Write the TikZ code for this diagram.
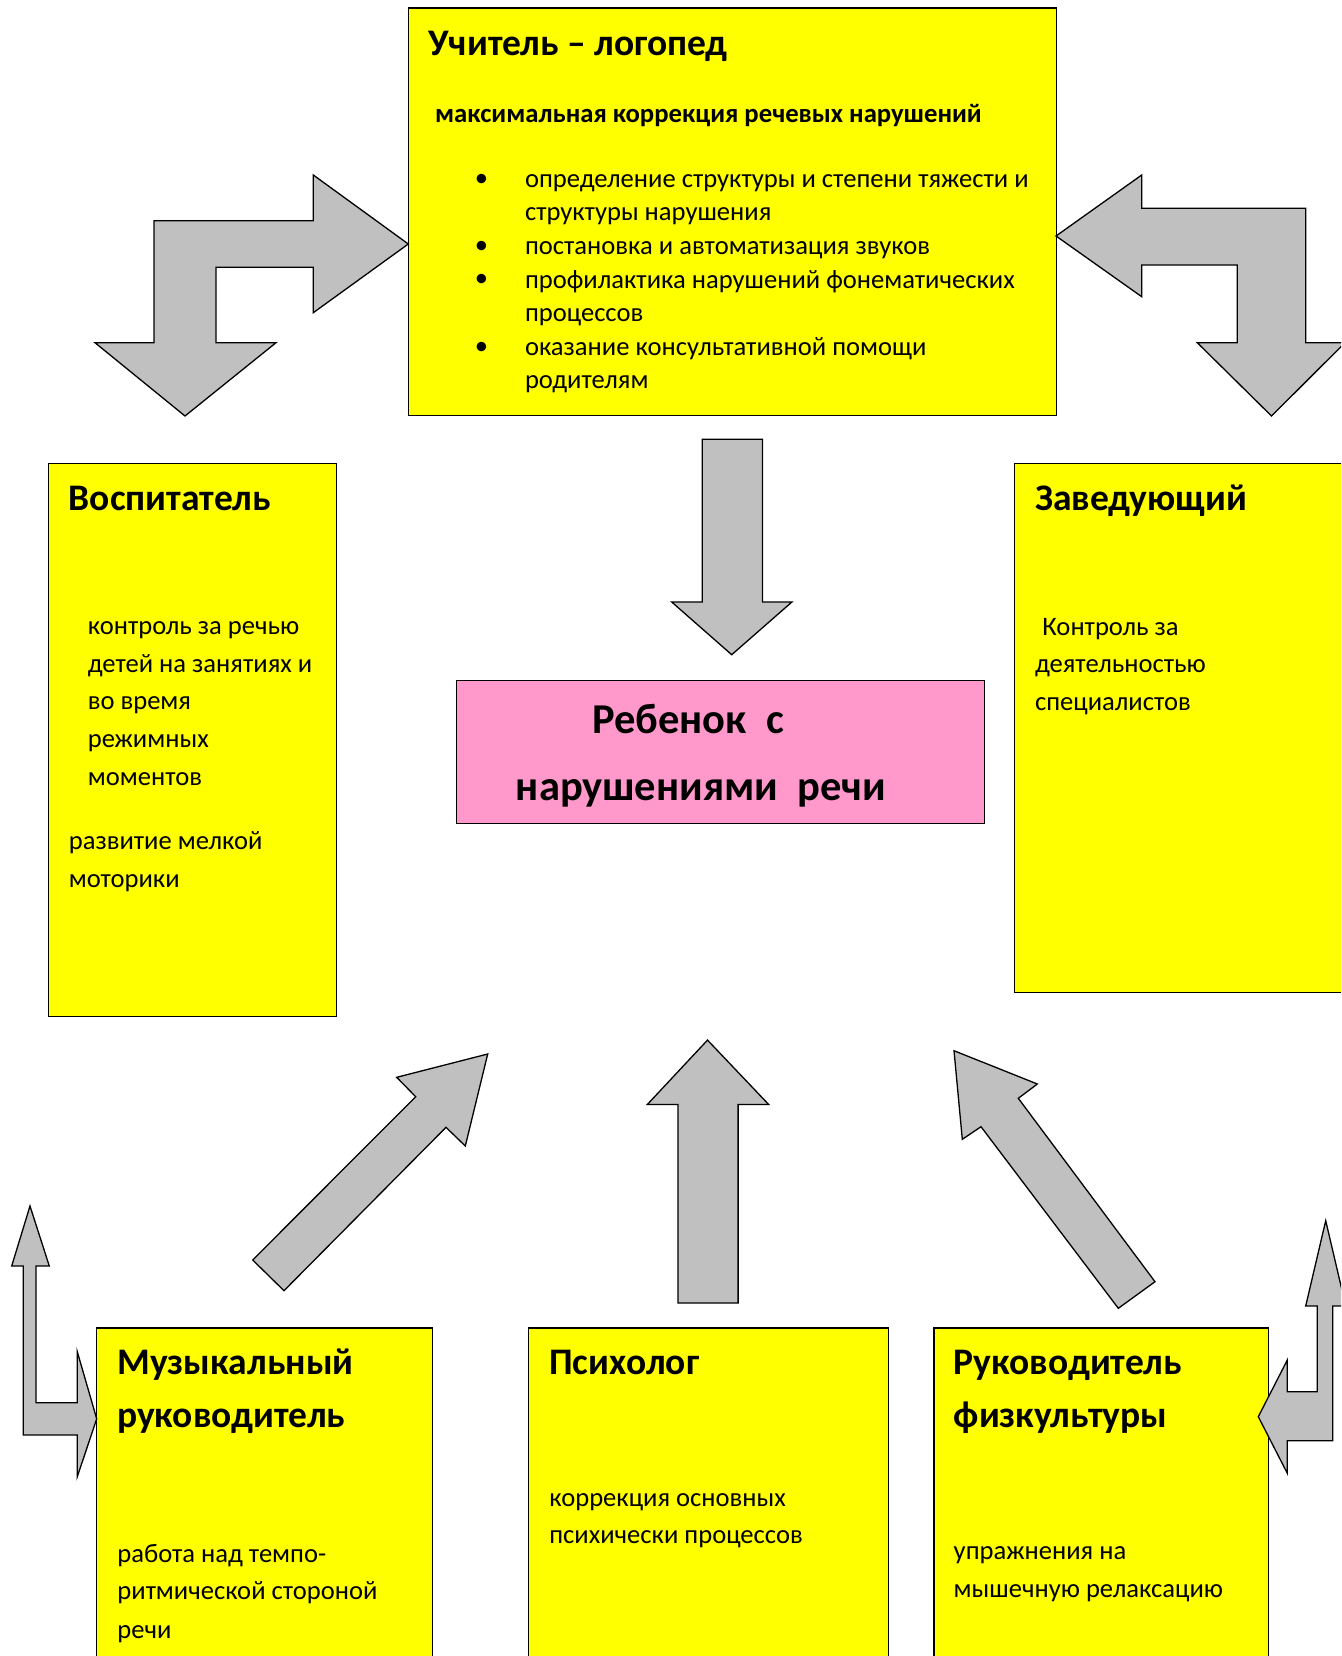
\documentclass[tikz,border=0pt]{standalone}
\usepackage{fontspec}
\setmainfont{Carlito}
\definecolor{boxyellow}{HTML}{FFFF00}
\definecolor{arrowgray}{HTML}{C0C0C0}
\definecolor{childpink}{HTML}{FF99CC}
\begin{document}
\begin{tikzpicture}[x=1pt,y=-1pt,
  ybox/.style={draw=black,line width=1.3pt,fill=boxyellow,anchor=north west,inner sep=0pt},
  pbox/.style={draw=black,line width=1.3pt,fill=childpink,anchor=north west,inner sep=0pt},
  blockarrow/.style={draw=black,line width=1.3pt,fill=arrowgray,line join=miter},
  ttl/.style={anchor=base west,inner sep=0pt,font=\fontsize{37.5}{44}\selectfont\bfseries},
  sub/.style={anchor=base west,inner sep=0pt,font=\fontsize{26.7}{32}\selectfont\bfseries},
  bodytxt/.style={anchor=base west,inner sep=0pt,font=\fontsize{26.6}{32}\selectfont},
  bul/.style={anchor=center,inner sep=0pt,font=\fontsize{26.6}{32}\selectfont},
  ctxt/.style={anchor=base,inner sep=0pt,font=\fontsize{42.5}{50}\selectfont\bfseries}]
\useasboundingbox (0,0) rectangle (1341,1656);
\clip (0,0) rectangle (1341,1656);
\fill[white] (0,0) rectangle (1341,1656);

% boxes
\node[ybox,minimum width=648.3pt,minimum height=407.6pt] (logo) at (407.6,7.4) {};
\node[ybox,minimum width=288.3pt,minimum height=553.3pt] (vosp) at (47.5,462.5) {};
\node[ybox,minimum width=360pt,minimum height=529pt] (zav) at (1013.7,462.5) {};
\node[pbox,minimum width=528pt,minimum height=142.6pt] (child) at (456.1,680) {};
\node[ybox,minimum width=335.8pt,minimum height=360pt] (muz) at (96.1,1327.3) {};
\node[ybox,minimum width=360pt,minimum height=360pt] (psy) at (528,1327.3) {};
\node[ybox,minimum width=334.7pt,minimum height=360pt] (fiz) at (933.4,1327.3) {};

% top box text
\node[ttl] (t1) at (428.7,56) {Учитель – логопед};
\node[sub] (t2) at (435,122.5) {максимальная коррекция речевых нарушений};
\node[bul] (b1) at (481.5,180.6) {•};
\node[bul] (b2) at (481.5,247) {•};
\node[bul] (b3) at (481.5,280.9) {•};
\node[bul] (b4) at (481.5,348.4) {•};
\node[bodytxt] (l1) at (524.8,188) {определение структуры и степени тяжести и};
\node[bodytxt] (l2) at (524.8,220.7) {структуры нарушения};
\node[bodytxt] (l3) at (524.8,254.4) {постановка и автоматизация звуков};
\node[bodytxt] (l4) at (524.8,288.3) {профилактика нарушений фонематических};
\node[bodytxt] (l5) at (524.8,321) {процессов};
\node[bodytxt] (l6) at (524.8,355.8) {оказание консультативной помощи};
\node[bodytxt] (l7) at (524.8,388.6) {родителям};

% left box text
\node[ttl] (v0) at (68.6,510.5) {Воспитатель};
\node[bodytxt] (v1) at (87.6,634.4) {контроль за речью};
\node[bodytxt] (v2) at (87.6,672.4) {детей на занятиях и};
\node[bodytxt] (v3) at (87.6,709.4) {во время};
\node[bodytxt] (v4) at (87.6,747.4) {режимных};
\node[bodytxt] (v5) at (87.6,785.4) {моментов};
\node[bodytxt] (v6) at (68.6,849) {развитие мелкой};
\node[bodytxt] (v7) at (68.6,887) {моторики};

% right box text
\node[ttl] (z0) at (1034.8,510.5) {Заведующий};
\node[bodytxt] (z1) at (1042.2,635.4) {Контроль за};
\node[bodytxt] (z2) at (1034.8,672.4) {деятельностью};
\node[bodytxt] (z3) at (1034.8,710.4) {специалистов};

% child text
\node[ctxt] (c1) at (688,733) {Ребенок\ \ с};
\node[ctxt] (c2) at (701,800) {нарушениями\ \ речи};

% bottom boxes text
\node[ttl] (m0) at (117.2,1374) {Музыкальный};
\node[ttl] (m1) at (117.2,1427) {руководитель};
\node[bodytxt] (m2) at (117.2,1562.4) {работа над темпо-};
\node[bodytxt] (m3) at (117.2,1599.4) {ритмической стороной};
\node[bodytxt] (m4) at (117.2,1638.4) {речи};
\node[ttl] (p0) at (549.1,1374) {Психолог};
\node[bodytxt] (p1) at (549.1,1506.4) {коррекция основных};
\node[bodytxt] (p2) at (549.1,1543.4) {психически процессов};
\node[ttl] (f0) at (953.5,1374) {Руководитель};
\node[ttl] (f1) at (953.5,1427) {физкультуры};
\node[bodytxt] (f2) at (953.5,1559.4) {упражнения на};
\node[bodytxt] (f3) at (953.5,1597.4) {мышечную релаксацию};

% block arrows
% top-left bent
\draw[blockarrow] (408.3,244) -- (313.3,175) -- (313.3,220.7) -- (154,220.7) -- (154,342.7) -- (95,342.7) -- (185,416) -- (276,342.7) -- (216,342.7) -- (216,267.3) -- (313.3,267.3) -- (313.3,312.7) -- cycle;
% top-right bent
\draw[blockarrow] (1056,236) -- (1141.7,175) -- (1141.7,208.3) -- (1305.7,208.3) -- (1305.7,342.7) -- (1345,342.7) -- (1271.5,416) -- (1197.3,342.7) -- (1237.3,342.7) -- (1237.3,265) -- (1141.7,265) -- (1141.7,296.7) -- cycle;
% down arrow to child
\draw[blockarrow] (702.2,439.3) -- (762.4,439.3) -- (762.4,601.9) -- (792,601.9) -- (731.7,654.7) -- (671.6,601.9) -- (702.2,601.9) -- cycle;
% up arrow from psychologist
\draw[blockarrow] (677.9,1303) -- (738.1,1303) -- (738.1,1104.5) -- (768.7,1104.5) -- (707.5,1040.1) -- (647.3,1104.5) -- (677.9,1104.5) -- cycle;
% diagonal left
\draw[blockarrow] (252.7,1260) -- (415.7,1096.7) -- (396.7,1077.3) -- (487.7,1054) -- (465.3,1146) -- (446,1127.3) -- (284,1290.7) -- cycle;
% diagonal right
\draw[blockarrow] (954,1050.7) -- (1037.3,1084) -- (1018.3,1098.3) -- (1155,1281.7) -- (1118.3,1308.3) -- (981,1126.7) -- (962.3,1139.3) -- cycle;
% small left bent
\draw[blockarrow] (30,1206) -- (49.3,1266) -- (36,1266) -- (36,1402.7) -- (77.3,1402.7) -- (77.3,1351.7) -- (96.7,1418.8) -- (77.3,1476.7) -- (77.3,1435) -- (23.3,1435) -- (23.3,1266) -- (11.7,1266) -- cycle;
% small right bent
\draw[blockarrow] (1325.7,1220.7) -- (1345.7,1306) -- (1332.7,1306) -- (1332.7,1440.7) -- (1287.3,1440.7) -- (1287.3,1473.3) -- (1258.3,1416.7) -- (1287.3,1360) -- (1287.3,1391.7) -- (1317.3,1391.7) -- (1317.3,1306) -- (1305.7,1306) -- cycle;
\end{tikzpicture}
\end{document}
